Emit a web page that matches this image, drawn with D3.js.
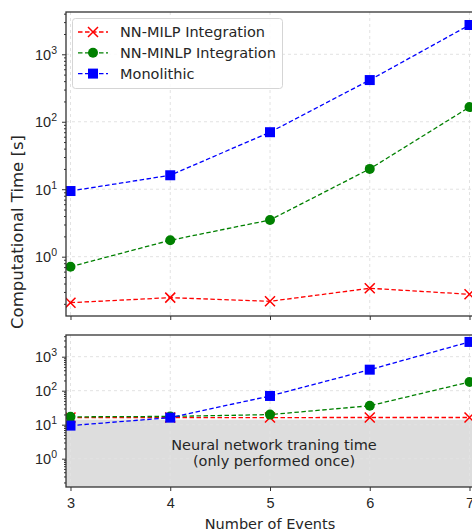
<!DOCTYPE html>
<html lang="en">
<head>
    <meta charset="UTF-8">
    <title>Computational Time vs Number of Events</title>
    <style>
        body { margin: 0; background: #fff; }
        svg { display: block; font-family: "DejaVu Sans", sans-serif; }
        .tick text { font-size: 14.5px; fill: #262626; }
        .grid line { stroke: #e2e2e2; stroke-dasharray: 3,3; }
    </style>
</head>
<body>
    <div id="chart"></div>

    <script src="https://d3js.org/d3.v7.min.js"></script>
    <script>
        // number of events
        const events = [3, 4, 5, 6, 7];

        // top panel: solve time only
        const milpTime = [0.208, 0.247, 0.218, 0.34, 0.277];
        const minlpTime = [0.71, 1.75, 3.5, 20, 165];
        const monoTime = [9.4, 16.1, 70, 415, 2718];

        // bottom panel: including network training time
        const milpTotal = [16.2, 16.2, 16.2, 16.3, 16.3];
        const minlpTotal = [17, 17.5, 19.8, 36, 181];
        const monoTotal = [9.4, 16.1, 70, 415, 2718];
        const trainingTime = 14;

        const yTicks = [1, 10, 100, 1000];

        const seriesNames = ["NN-MILP Integration", "NN-MINLP Integration", "Monolithic"];
        const colors = ["#ff0000", "#008000", "#0000ff"];
        const markers = ["cross", "circle", "square"];

        const width = 472, height = 531;
        const left = 66, right = 474;

        const svg = d3.select("#chart").append("svg")
            .attr("width", width)
            .attr("height", height);

        const x = d3.scaleLinear().domain([2.955, 7.045]).range([left, right]);

        const panels = [
            { top: 12, bottom: 316, domain: [0.132, 4236], data: [milpTime, minlpTime, monoTime], labels: false },
            { top: 335, bottom: 487, domain: [0.147, 4345], data: [milpTotal, minlpTotal, monoTotal], labels: true }
        ];

        function drawMarker(g, type, color, cx, cy) {
            if (type === "cross") {
                const s = 5;
                g.append("path")
                    .attr("d", `M${cx - s},${cy - s}L${cx + s},${cy + s}M${cx - s},${cy + s}L${cx + s},${cy - s}`)
                    .attr("stroke", color).attr("stroke-width", 1.5).attr("fill", "none");
            } else if (type === "circle") {
                g.append("circle").attr("cx", cx).attr("cy", cy).attr("r", 5).attr("fill", color);
            } else {
                g.append("rect").attr("x", cx - 5).attr("y", cy - 5).attr("width", 10).attr("height", 10).attr("fill", color);
            }
        }

        panels.forEach((p, pi) => {
            const y = d3.scaleLog().domain(p.domain).range([p.bottom, p.top]);
            const g = svg.append("g");

            const clipId = "clip" + pi;
            svg.append("clipPath").attr("id", clipId)
                .append("rect").attr("x", left).attr("y", p.top).attr("width", right - left).attr("height", p.bottom - p.top);

            // training time shading
            if (p.labels) {
                g.append("rect")
                    .attr("x", left).attr("width", right - left)
                    .attr("y", y(trainingTime)).attr("height", p.bottom - y(trainingTime))
                    .attr("fill", "#dddddd");
            }

            // grid
            const grid = g.append("g").attr("class", "grid");
            grid.selectAll("line.h").data(yTicks).enter().append("line")
                .attr("x1", left).attr("x2", right)
                .attr("y1", d => y(d)).attr("y2", d => y(d));
            grid.selectAll("line.v").data(events).enter().append("line")
                .attr("x1", d => x(d)).attr("x2", d => x(d))
                .attr("y1", p.top).attr("y2", p.bottom);

            if (p.labels) {
                g.append("text")
                    .attr("x", 274).attr("y", 449.5)
                    .attr("text-anchor", "middle")
                    .attr("font-size", 14.5).attr("fill", "#262626")
                    .text("Neural network traning time");
                g.append("text")
                    .attr("x", 274).attr("y", 466)
                    .attr("text-anchor", "middle")
                    .attr("font-size", 14.5).attr("fill", "#262626")
                    .text("(only performed once)");
            }

            // series
            const line = d3.line().x((d, i) => x(events[i])).y(d => y(d));
            const sg = g.append("g").attr("clip-path", `url(#${clipId})`);
            p.data.forEach((vals, si) => {
                sg.append("path")
                    .datum(vals)
                    .attr("d", line)
                    .attr("fill", "none")
                    .attr("stroke", colors[si])
                    .attr("stroke-width", 1.3)
                    .attr("stroke-dasharray", "4.5,2.5");
            });
            p.data.forEach((vals, si) => {
                vals.forEach((v, i) => drawMarker(sg, markers[si], colors[si], x(events[i]), y(v)));
            });

            // y axis with log minor ticks
            const minors = [];
            for (let e = -1; e <= 3; e++) {
                for (let k = 2; k <= 9; k++) {
                    const v = k * Math.pow(10, e);
                    if (v >= p.domain[0] && v <= p.domain[1]) minors.push(v);
                }
            }
            g.append("g")
                .attr("transform", `translate(${left},0)`)
                .call(d3.axisLeft(y).tickValues(minors).tickSize(2).tickFormat(""))
                .call(a => a.select(".domain").remove())
                .call(a => a.selectAll("line").attr("stroke", "#333"));
            const yAxis = g.append("g")
                .attr("transform", `translate(${left},0)`)
                .call(d3.axisLeft(y).tickValues(yTicks).tickSize(4).tickPadding(5).tickFormat(""))
                .call(a => a.select(".domain").remove())
                .call(a => a.selectAll("line").attr("stroke", "#333"));
            // mathtext-like 10^n labels
            yAxis.selectAll(".tick text").each(function (d) {
                const t = d3.select(this).attr("dy", null).attr("y", 5);
                t.append("tspan").text("10");
                t.append("tspan").attr("dy", -6).attr("font-size", 10.5)
                    .text(Math.round(Math.log10(d)));
            });

            // x axis
            g.append("g")
                .attr("transform", `translate(0,${p.bottom})`)
                .call(d3.axisBottom(x).tickValues(events).tickSize(4).tickPadding(7)
                    .tickFormat(p.labels ? d3.format("d") : ""))
                .call(a => a.select(".domain").remove())
                .call(a => a.selectAll("line").attr("stroke", "#333"));

            // frame
            g.append("rect")
                .attr("x", left).attr("y", p.top)
                .attr("width", right - left).attr("height", p.bottom - p.top)
                .attr("fill", "none").attr("stroke", "#333").attr("stroke-width", 1.3);
        });

        // legend
        const lg = svg.append("g");
        lg.append("rect")
            .attr("x", 72.5).attr("y", 18.5).attr("width", 210).attr("height", 70)
            .attr("rx", 3)
            .attr("fill", "#fff").attr("fill-opacity", 0.85)
            .attr("stroke", "#d5d5d5");
        seriesNames.forEach((name, i) => {
            const ly = 32 + i * 20.8;
            lg.append("line")
                .attr("x1", 78).attr("x2", 108).attr("y1", ly).attr("y2", ly)
                .attr("stroke", colors[i]).attr("stroke-width", 1.3)
                .attr("stroke-dasharray", "4.5,2.5");
            drawMarker(lg, markers[i], colors[i], 93, ly);
            lg.append("text")
                .attr("x", 120).attr("y", ly).attr("dy", "0.35em")
                .attr("font-size", 14.5).attr("fill", "#262626")
                .text(name);
        });

        // axis labels
        svg.append("text")
            .attr("transform", `translate(23,232) rotate(-90)`)
            .attr("text-anchor", "middle")
            .attr("font-size", 16.5).attr("fill", "#262626")
            .text("Computational Time [s]");
        svg.append("text")
            .attr("x", 270).attr("y", 529)
            .attr("text-anchor", "middle")
            .attr("font-size", 14.5).attr("fill", "#262626")
            .text("Number of Events");
    </script>
</body>
</html>
